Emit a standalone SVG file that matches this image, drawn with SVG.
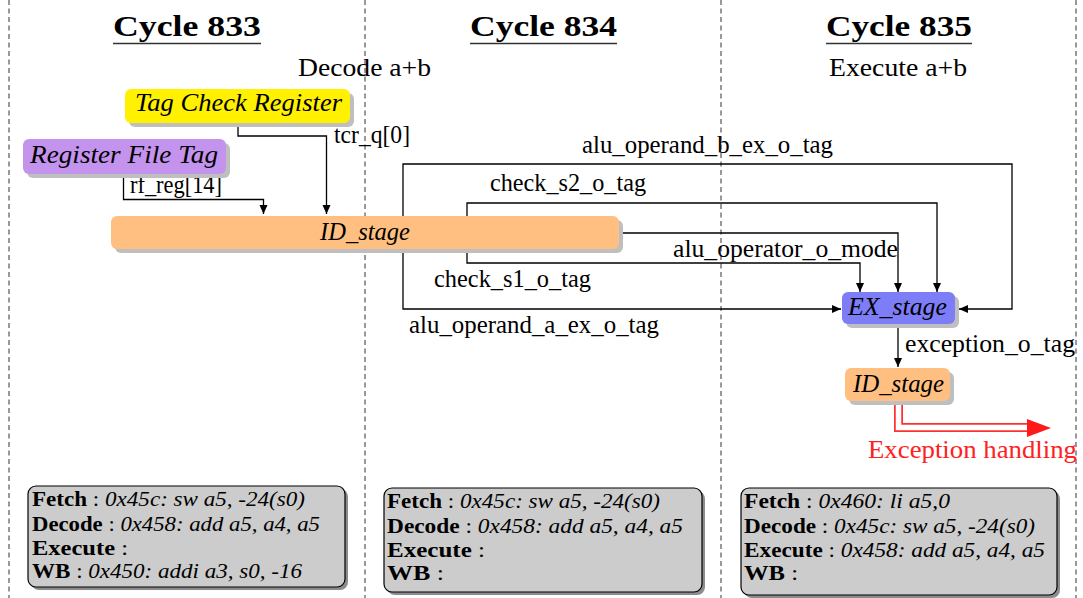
<svg xmlns="http://www.w3.org/2000/svg" width="1083" height="598" viewBox="0 0 1083 598" font-family="'Liberation Serif', serif">
<style>
text{font-family:'Liberation Serif',serif;fill:#000}
.title{font-size:30px;font-weight:bold}
.lbl{font-size:25px}
.it{font-size:25px;font-style:italic}
.bx{font-size:20px}
.b{font-weight:bold}
.i{font-style:italic}
.dash{stroke:#333;stroke-width:1;stroke-dasharray:5 3.5;fill:none}
.conn{stroke:#000;stroke-width:1.3;fill:none}
.shadow{fill:#bfbfbf}
.bshadow{fill:#8c8c8c}
.ibox{fill:#cccccc;stroke:#000;stroke-width:1.2}
</style>
<defs>
<marker id="arr" markerUnits="userSpaceOnUse" markerWidth="10" markerHeight="10" viewBox="0 0 10 10" refX="9" refY="5" orient="auto">
<path d="M0,1 L9,5 L0,9 Z" fill="#000"/>
</marker>
</defs>
<rect width="1083" height="598" fill="#fff"/>
<g id="dividers">
<line class="dash" x1="9" y1="0" x2="9" y2="598"/>
<line class="dash" x1="365" y1="0" x2="365" y2="598"/>
<line class="dash" x1="721" y1="0" x2="721" y2="598"/>
<line class="dash" x1="1076" y1="0" x2="1076" y2="598"/>
</g>
<g id="titles">
<text class="title" x="113" y="36" textLength="148" lengthAdjust="spacingAndGlyphs">Cycle 833</text>
<line x1="113" y1="43.5" x2="261" y2="43.5" stroke="#333" stroke-width="1.3"/>
<text class="title" x="470" y="36" textLength="147" lengthAdjust="spacingAndGlyphs">Cycle 834</text>
<line x1="470" y1="43.5" x2="617" y2="43.5" stroke="#333" stroke-width="1.3"/>
<text class="title" x="826" y="36" textLength="146" lengthAdjust="spacingAndGlyphs">Cycle 835</text>
<line x1="826" y1="43.5" x2="972" y2="43.5" stroke="#333" stroke-width="1.3"/>
<text class="lbl" x="298" y="76" textLength="133" lengthAdjust="spacingAndGlyphs">Decode a+b</text>
<text class="lbl" x="829" y="76" textLength="138" lengthAdjust="spacingAndGlyphs">Execute a+b</text>
</g>
<g id="connectors">
<path class="conn" d="M238,123 V136 H326.5 V214" marker-end="url(#arr)"/>
<path class="conn" d="M123.5,174 V199.5 H263.5 V214" marker-end="url(#arr)"/>
<path class="conn" d="M403,232 V164 H1012 V309 H959" marker-end="url(#arr)"/>
<path class="conn" d="M403,232 V309 H841" marker-end="url(#arr)"/>
<path class="conn" d="M467,232 V203 H937 V292" marker-end="url(#arr)"/>
<path class="conn" d="M467,232 V263 H860 V292" marker-end="url(#arr)"/>
<path class="conn" d="M619,233 H898 V292" marker-end="url(#arr)"/>
<path class="conn" d="M898,324 V367" marker-end="url(#arr)"/>
<path d="M898.5,401 V427.5 H1028" fill="none" stroke="#ff3030" stroke-width="9"/>
<path d="M898.5,400 V427.5 H1028" fill="none" stroke="#fff" stroke-width="5.5"/>
<path d="M1027,419 L1051,428 L1027,437 Z" fill="#ff1a1a"/>
<text class="lbl" x="334" y="143" textLength="76" lengthAdjust="spacingAndGlyphs">tcr_q[0]</text>
<text class="lbl" x="130" y="193" textLength="92" lengthAdjust="spacingAndGlyphs">rf_reg[14]</text>
<text class="lbl" x="582" y="153" textLength="251" lengthAdjust="spacingAndGlyphs">alu_operand_b_ex_o_tag</text>
<text class="lbl" x="490" y="191" textLength="156" lengthAdjust="spacingAndGlyphs">check_s2_o_tag</text>
<text class="lbl" x="673" y="257" textLength="225" lengthAdjust="spacingAndGlyphs">alu_operator_o_mode</text>
<text class="lbl" x="434" y="287" textLength="157" lengthAdjust="spacingAndGlyphs">check_s1_o_tag</text>
<text class="lbl" x="409" y="333" textLength="250" lengthAdjust="spacingAndGlyphs">alu_operand_a_ex_o_tag</text>
<text class="lbl" x="905" y="352" textLength="170" lengthAdjust="spacingAndGlyphs">exception_o_tag</text>
<text class="lbl" x="868" y="458" textLength="209" lengthAdjust="spacingAndGlyphs" style="fill:#ff2020">Exception handling</text>
</g>
<g id="tcr">
<rect class="shadow" x="129" y="93" width="225" height="34" rx="6"/>
<rect x="125" y="89" width="225" height="34" rx="6" fill="#fff100"/>
<text class="it" x="135" y="111" textLength="207" lengthAdjust="spacingAndGlyphs">Tag Check Register</text>
</g>
<g id="rft">
<rect class="shadow" x="27" y="143" width="203" height="35" rx="6"/>
<rect x="23" y="139" width="203" height="35" rx="6" fill="#c493ee"/>
<text class="it" x="30" y="163" textLength="188" lengthAdjust="spacingAndGlyphs">Register File Tag</text>
</g>
<g id="id_stage">
<rect class="shadow" x="115" y="220" width="508" height="33" rx="6"/>
<rect x="111" y="216" width="508" height="33" rx="6" fill="#ffbf80"/>
<text class="it" x="320" y="240" textLength="90" lengthAdjust="spacingAndGlyphs">ID_stage</text>
</g>
<g id="ex_stage">
<rect class="shadow" x="846" y="296" width="113" height="32" rx="6"/>
<rect x="842" y="292" width="113" height="32" rx="6" fill="#7d7df8"/>
<text class="it" x="848" y="315" textLength="99" lengthAdjust="spacingAndGlyphs">EX_stage</text>
</g>
<g id="id_stage2">
<rect class="shadow" x="849" y="372" width="105" height="33" rx="6"/>
<rect x="845" y="368" width="105" height="33" rx="6" fill="#ffbf80"/>
<text class="it" x="853" y="392" textLength="91" lengthAdjust="spacingAndGlyphs">ID_stage</text>
</g>
<g id="info833">
<rect class="bshadow" x="31" y="489" width="317" height="101" rx="8"/>
<rect class="ibox" x="28" y="486" width="317" height="101" rx="8"/>
<text class="bx" x="32" y="506" textLength="273" lengthAdjust="spacingAndGlyphs"><tspan class="b">Fetch</tspan> : <tspan class="i">0x45c: sw a5, -24(s0)</tspan></text>
<text class="bx" x="32" y="531" textLength="288" lengthAdjust="spacingAndGlyphs"><tspan class="b">Decode</tspan> : <tspan class="i">0x458: add a5, a4, a5</tspan></text>
<text class="bx" x="32" y="555" textLength="96" lengthAdjust="spacingAndGlyphs"><tspan class="b">Execute</tspan> :</text>
<text class="bx" x="32" y="578" textLength="270" lengthAdjust="spacingAndGlyphs"><tspan class="b">WB</tspan> : <tspan class="i">0x450: addi a3, s0, -16</tspan></text>
</g>
<g id="info834">
<rect class="bshadow" x="387" y="491" width="318" height="104" rx="8"/>
<rect class="ibox" x="384" y="488" width="318" height="104" rx="8"/>
<text class="bx" x="387" y="508" textLength="273" lengthAdjust="spacingAndGlyphs"><tspan class="b">Fetch</tspan> : <tspan class="i">0x45c: sw a5, -24(s0)</tspan></text>
<text class="bx" x="387" y="533" textLength="296" lengthAdjust="spacingAndGlyphs"><tspan class="b">Decode</tspan> : <tspan class="i">0x458: add a5, a4, a5</tspan></text>
<text class="bx" x="387" y="557" textLength="98" lengthAdjust="spacingAndGlyphs"><tspan class="b">Execute</tspan> :</text>
<text class="bx" x="387" y="580" textLength="57" lengthAdjust="spacingAndGlyphs"><tspan class="b">WB</tspan> :</text>
</g>
<g id="info835">
<rect class="bshadow" x="744" y="491" width="316" height="107" rx="8"/>
<rect class="ibox" x="741" y="488" width="316" height="107" rx="8"/>
<text class="bx" x="744" y="508" textLength="206" lengthAdjust="spacingAndGlyphs"><tspan class="b">Fetch</tspan> : <tspan class="i">0x460: li a5,0</tspan></text>
<text class="bx" x="744" y="533" textLength="291" lengthAdjust="spacingAndGlyphs"><tspan class="b">Decode</tspan> : <tspan class="i">0x45c: sw a5, -24(s0)</tspan></text>
<text class="bx" x="744" y="557" textLength="301" lengthAdjust="spacingAndGlyphs"><tspan class="b">Execute</tspan> : <tspan class="i">0x458: add a5, a4, a5</tspan></text>
<text class="bx" x="744" y="580" textLength="54" lengthAdjust="spacingAndGlyphs"><tspan class="b">WB</tspan> :</text>
</g>
</svg>
